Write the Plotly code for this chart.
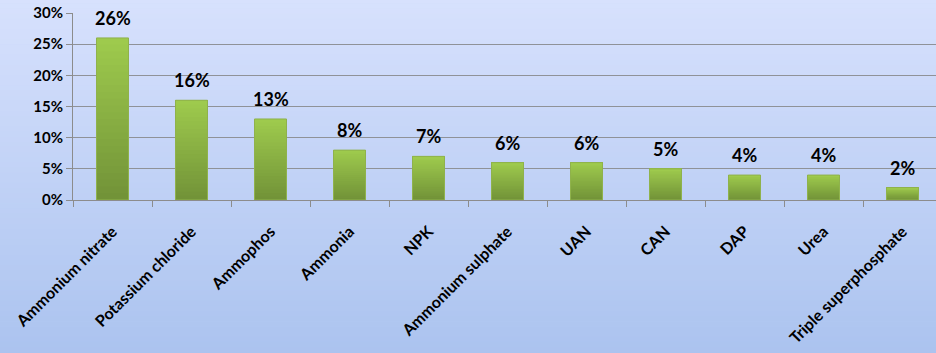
import plotly.graph_objects as go

categories = ["Ammonium nitrate", "Potassium chloride", "Ammophos", "Ammonia", "NPK",
              "Ammonium sulphate", "UAN", "CAN", "DAP", "Urea", "Triple superphosphate"]
shares = [26, 16, 13, 8, 7, 6, 6, 5, 4, 4, 2]
value_labels = ["26%", "16%", "13%", "8%", "7%", "6%", "6%", "5%", "4%", "4%", "2%"]
y_ticks = [0, 5, 10, 15, 20, 25, 30]
y_tick_labels = ["0%", "5%", "10%", "15%", "20%", "25%", "30%"]


def lerp(c1, c2, t):
    return "rgb(%d,%d,%d)" % tuple(round(a + (b - a) * t) for a, b in zip(c1, c2))


BAR_BOTTOM = (0x72, 0x93, 0x38)
BAR_TOP = (0x9e, 0xca, 0x4d)
BG_TOP = (0xd7, 0xe1, 0xfd)
BG_BOTTOM = (0xab, 0xc3, 0xef)

fig = go.Figure()

# vertical gradient inside each bar: overlapping slices from a fraction of each value up to the value
N = 24
for k in range(N):
    t = k / (N - 1)
    fig.add_trace(go.Bar(
        x=categories,
        y=[v * (1 - k / N) for v in shares],
        base=[v * k / N for v in shares],
        width=0.405,
        marker=dict(color=lerp(BAR_BOTTOM, BAR_TOP, t), line=dict(width=0)),
        hoverinfo="skip",
        showlegend=False,
    ))

# outline of each bar
fig.add_trace(go.Bar(
    x=categories,
    y=shares,
    width=0.405,
    marker=dict(color="rgba(0,0,0,0)", line=dict(color="#8fb24c", width=1)),
    showlegend=False,
))

for c, v, lab in zip(categories, shares, value_labels):
    fig.add_annotation(x=c, y=v, text=lab, showarrow=False, yanchor="bottom",
                       yshift=7, font=dict(family="Lato", size=18, color="black", weight=700))

# background gradient (paper coords are relative to the plot area)
S = 70
Y_TOP, Y_BOT = 1.08, -0.84
shapes = []
h = (Y_TOP - Y_BOT) / S
for i in range(S):
    t = i / (S - 1)
    shapes.append(dict(type="rect", xref="paper", yref="paper",
                       x0=-0.1, x1=1.02, y0=Y_TOP - (i + 1) * h - 0.003,
                       y1=Y_TOP - i * h,
                       fillcolor=lerp(BG_TOP, BG_BOTTOM, t), line=dict(width=0),
                       layer="below"))

fig.update_layout(
    width=936, height=353,
    margin=dict(l=73, r=0, t=13, b=153),
    paper_bgcolor=lerp(BG_TOP, BG_BOTTOM, 0.5),
    plot_bgcolor="rgba(0,0,0,0)",
    barmode="overlay",
    shapes=shapes,
    font=dict(family="Lato", color="black"),
    xaxis=dict(
        range=[-0.5, 10.424],
        tickangle=-45,
        tickson="boundaries",
        ticks="outside", ticklen=6, tickcolor="#8c8c8c",
        ticklabelstandoff=15,
        automargin=False,
        showline=True, linecolor="#8c8c8c", linewidth=1,
        showgrid=False,
        tickfont=dict(family="Lato", size=16, color="black", weight=700),
    ),
    yaxis=dict(
        range=[0, 30],
        tickvals=y_ticks, ticktext=y_tick_labels,
        ticks="outside", ticklen=6, tickcolor="#8c8c8c",
        automargin=False,
        showline=True, linecolor="#8c8c8c", linewidth=1,
        showgrid=True, gridcolor="#8f9298", gridwidth=1,
        zeroline=False,
        tickfont=dict(family="Lato", size=15, color="black", weight=700),
    ),
)

fig.write_html("out.html", config={"displayModeBar": False},
               post_script="document.body.style.margin='0';document.body.style.overflow='hidden';")
